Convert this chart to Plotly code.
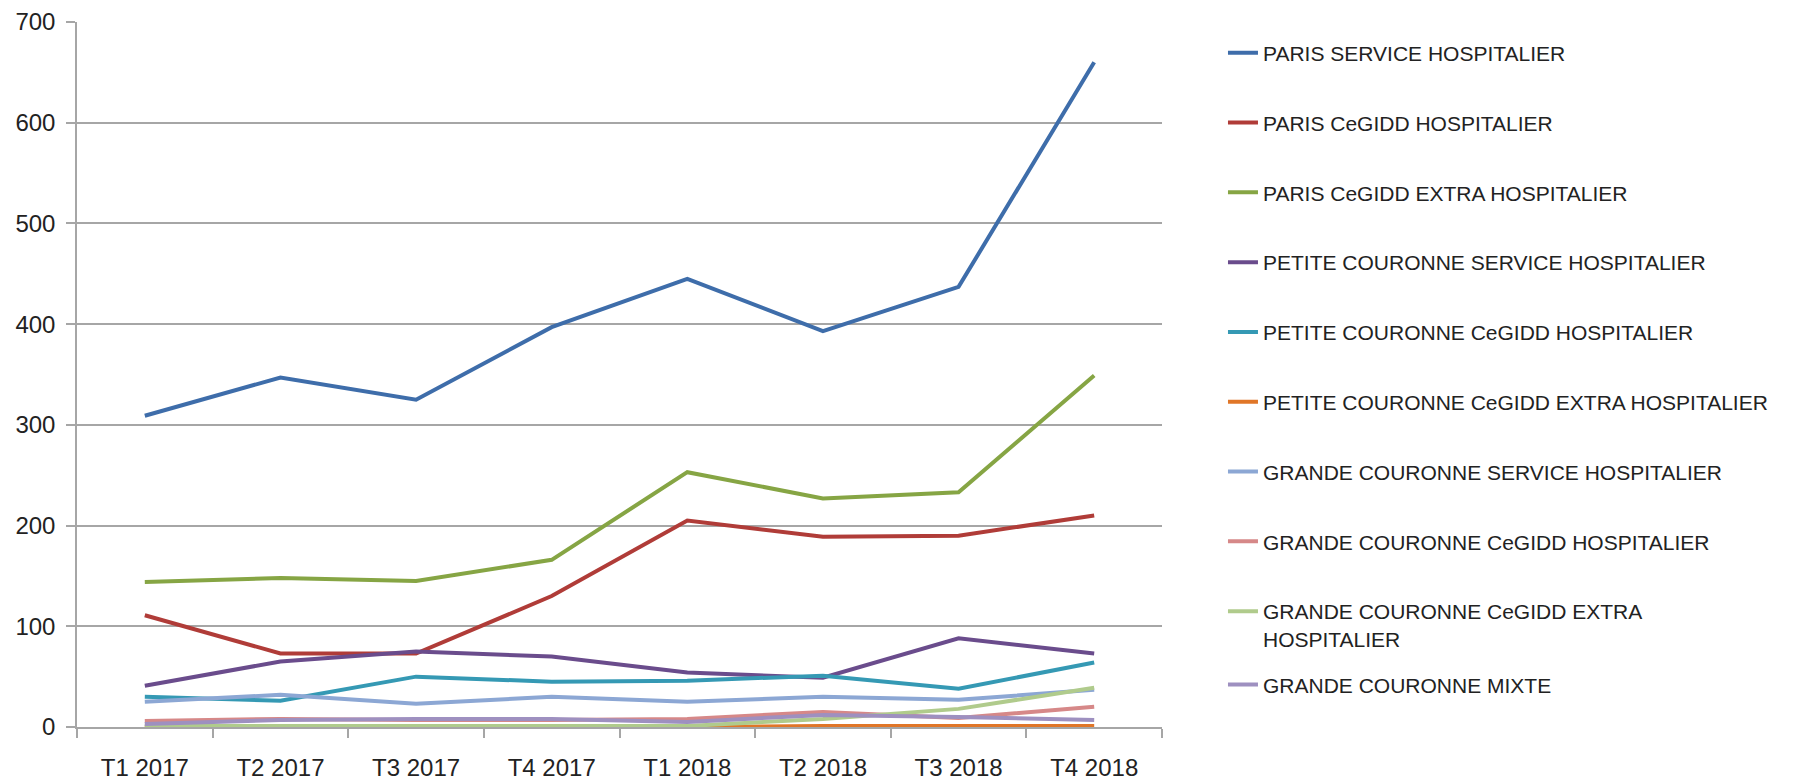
import plotly.graph_objects as go

categories = ["T1 2017", "T2 2017", "T3 2017", "T4 2017", "T1 2018", "T2 2018", "T3 2018", "T4 2018"]

paris_service_hosp = [309, 347, 325, 397, 445, 393, 437, 660]
paris_cegidd_hosp = [111, 73, 73, 130, 205, 189, 190, 210]
paris_cegidd_extra = [144, 148, 145, 166, 253, 227, 233, 349]
pc_service_hosp = [41, 65, 75, 70, 54, 49, 88, 73]
pc_cegidd_hosp = [30, 26, 50, 45, 46, 51, 38, 64]
pc_cegidd_extra = [0, 0, 0, 0, 0, 1, 1, 1]
gc_service_hosp = [25, 32, 23, 30, 25, 30, 27, 37]
gc_cegidd_hosp = [6, 8, 7, 7, 8, 15, 9, 20]
gc_cegidd_extra = [1, 1, 1, 1, 1, 8, 18, 39]
gc_mixte = [3, 7, 8, 8, 5, 12, 10, 7]

series_names = [
    "PARIS SERVICE HOSPITALIER",
    "PARIS CeGIDD HOSPITALIER",
    "PARIS CeGIDD EXTRA HOSPITALIER",
    "PETITE COURONNE SERVICE HOSPITALIER",
    "PETITE COURONNE CeGIDD HOSPITALIER",
    "PETITE COURONNE CeGIDD EXTRA HOSPITALIER",
    "GRANDE COURONNE SERVICE HOSPITALIER",
    "GRANDE COURONNE CeGIDD HOSPITALIER",
    "GRANDE COURONNE CeGIDD EXTRA<br>HOSPITALIER",
    "GRANDE COURONNE MIXTE",
]
series_values = [
    paris_service_hosp, paris_cegidd_hosp, paris_cegidd_extra,
    pc_service_hosp, pc_cegidd_hosp, pc_cegidd_extra,
    gc_service_hosp, gc_cegidd_hosp, gc_cegidd_extra, gc_mixte,
]
colors = ["#3E6DAA", "#B03C38", "#86A544", "#6A4C8C", "#3599B4",
          "#E07628", "#8CA7D4", "#D68888", "#B0CB8C", "#9E90C0"]

FONT = "Liberation Sans, Arial, sans-serif"
TXT = "#222222"
GRID = "#A6A6A6"

fig = go.Figure()
n = len(series_names)
for i, (name, vals, col) in enumerate(zip(series_names, series_values, colors)):
    fig.add_trace(go.Scatter(
        x=categories, y=vals, name=name, mode="lines",
        line=dict(color=col, width=4),
        legendgroup=f"g{i}",
        legend="legend" if i < n - 1 else "legend2",
    ))

legend_common = dict(
    xanchor="left", yanchor="top",
    font=dict(family=FONT, size=21, color=TXT),
    valign="top", bgcolor="rgba(0,0,0,0)",
)

fig.update_layout(
    width=1799, height=779,
    margin=dict(l=69, r=645, t=14, b=60, autoexpand=False),
    paper_bgcolor="white", plot_bgcolor="white",
    font=dict(family=FONT, color=TXT),
    showlegend=True,
    legend=dict(x=1.0562, y=0.985, tracegroupgap=39.5, **legend_common),
    legend2=dict(x=1.0562, y=0.089, **legend_common),
    xaxis=dict(
        type="category", categoryorder="array", categoryarray=categories,
        range=[-0.5, 7.5], automargin=False,
        showgrid=False, showline=True, linecolor=GRID, linewidth=1.5,
        ticks="outside", tickson="boundaries", ticklen=9, tickcolor=GRID, tickwidth=1.5,
        tickfont=dict(family=FONT, size=24, color=TXT),
        ticklabelstandoff=18, ticklabeloverflow="allow",
    ),
    yaxis=dict(
        range=[0, 700], dtick=100, tick0=0, automargin=False,
        showgrid=True, gridcolor=GRID, gridwidth=1.5,
        showline=True, linecolor=GRID, linewidth=1.5,
        zeroline=False,
        ticks="outside", ticklen=9, tickcolor=GRID, tickwidth=1.5,
        tickfont=dict(family=FONT, size=24, color=TXT),
        ticklabelstandoff=6, ticklabeloverflow="allow",
    ),
)

fig.write_html("out.html")
